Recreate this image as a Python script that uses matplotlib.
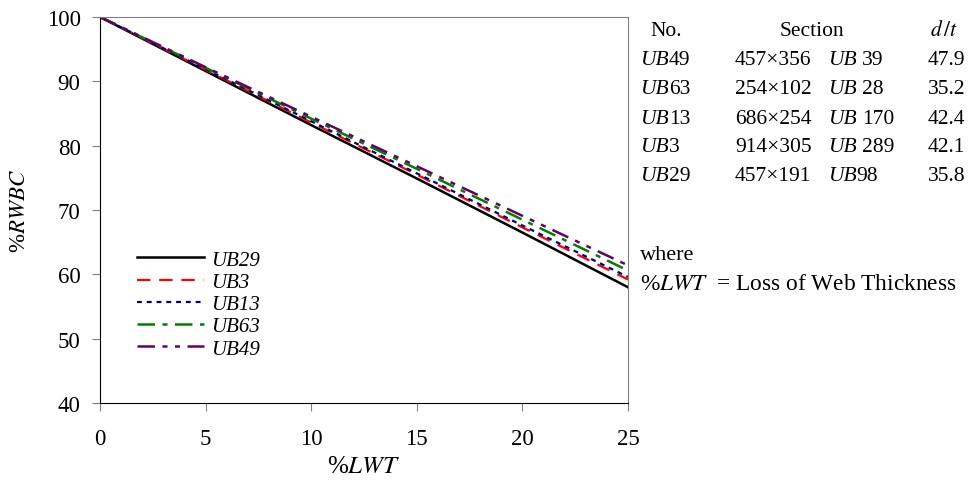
import matplotlib
matplotlib.use("Agg")
import matplotlib.pyplot as plt

plt.rcParams["font.family"] = ["Liberation Serif", "DejaVu Serif"]
plt.rcParams["mathtext.fontset"] = "stix"

# data
lwt = [0, 5, 10, 15, 20, 25]
ub29 = [100, 91.6, 83.2, 74.9, 66.5, 58.0]
ub3 = [100, 91.8, 83.6, 75.5, 67.3, 59.2]
ub13 = [100, 91.9, 83.8, 75.7, 67.6, 59.6]
ub63 = [100, 92.1, 84.2, 76.4, 68.5, 60.6]
ub49 = [100, 92.2, 84.5, 76.8, 69.1, 61.4]

table_no = ["49", "63", "13", "3", "29"]
table_sec = ["457×356", "254×102", "686×254", "914×305", "457×191"]
table_w = ["39", "28", "170", "289", "98"]
table_dt = ["47.9", "35.2", "42.4", "42.1", "35.8"]

fig = plt.figure(figsize=(9.73, 4.81), dpi=100)
ax = fig.add_axes([0.1028, 0.160, 0.5426, 0.8026])

ax.plot(lwt, ub29, color="black", lw=1.8, label="UB29")
ax.plot(lwt, ub3, color="red", lw=1.6, dashes=(6, 4), label="UB3")
ax.plot(lwt, ub13, color="#000080", lw=1.6, dashes=(2.2, 2.2), label="UB13")
ax.plot(lwt, ub63, color="#008000", lw=1.8, dashes=(7, 3, 2, 3), label="UB63")
ax.plot(lwt, ub49, color="#660066", lw=1.8, dashes=(7, 3, 2, 3, 2, 3), label="UB49")

ax.set_xlim(0, 25)
ax.set_ylim(40, 100)
ax.set_xticks([0, 5, 10, 15, 20, 25])
ax.set_yticks([40, 50, 60, 70, 80, 90, 100])
ax.tick_params(labelsize=16.5, direction="out", length=6, color="#808080")
ax.tick_params(axis="x", pad=12)
ax.tick_params(axis="y", pad=8)
for s in ["top", "right"]:
    ax.spines[s].set_color("#808080")
ax.set_xlabel("%$LWT$", fontsize=18, labelpad=4)
ax.set_ylabel("%$RWBC$", fontsize=16.5, labelpad=12)

ax.legend(loc="upper left", bbox_to_anchor=(0.035, 0.445), frameon=False,
          handlelength=3.2, labelspacing=0.13, handletextpad=0.35,
          borderpad=0.4, prop={"family": "Liberation Serif", "style": "italic", "size": 15})

# table on the right
fs = 15.5
fig.text(650 / 973, 1 - 31 / 481, "No.", fontsize=fs, va="center")
fig.text(812 / 973, 1 - 31 / 481, "Section", fontsize=fs, va="center", ha="center")
fig.text(930 / 973, 1 - 31 / 481, "$d\\,/t$", fontsize=fs, va="center")
rows_y = [61, 90, 119, 148, 177]
for i, y in enumerate(rows_y):
    yy = 1 - y / 481
    fig.text(640 / 973, yy, "UB", fontsize=fs, style="italic", va="center")
    fig.text(669 / 973, yy, table_no[i], fontsize=fs, va="center")
    fig.text(735 / 973, yy, table_sec[i], fontsize=fs, va="center")
    fig.text(828 / 973, yy, "UB", fontsize=fs, style="italic", va="center")
    wx = 856 if table_w[i] == "98" else 862
    fig.text(wx / 973, yy, table_w[i], fontsize=fs, va="center")
    fig.text(928 / 973, yy, table_dt[i], fontsize=fs, va="center")

fig.text(640 / 973, 1 - 256 / 481, "where", fontsize=16, va="center")
fig.text(640 / 973, 1 - 284 / 481, "%$LWT\\ $ = Loss of Web Thickness", fontsize=16.8, va="center")

fig.savefig("out.png", dpi=100)
